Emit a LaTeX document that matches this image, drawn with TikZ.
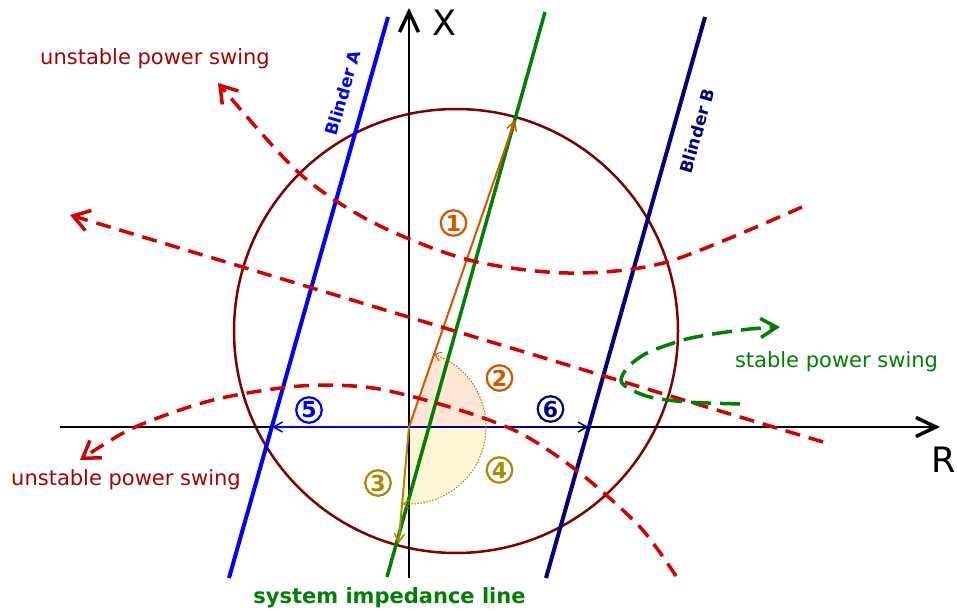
\documentclass[tikz,border=0pt]{standalone}
\usepackage{fontspec}
\setmainfont{DejaVu Sans}
\usetikzlibrary{arrows.meta,calc}
\definecolor{circ}{HTML}{800000}
\definecolor{swred}{HTML}{D40000}
\definecolor{txtred}{HTML}{AA0000}
\definecolor{orng}{HTML}{D45500}
\definecolor{dyel}{HTML}{AA8800}
\definecolor{navyb}{HTML}{000080}
\definecolor{grn}{HTML}{008000}
\definecolor{lorange}{HTML}{FFE6D5}
\definecolor{lyellow}{HTML}{FFF6D5}
\begin{document}
\begin{tikzpicture}[x=1pt,y=-1pt,
  swing/.style={draw=swred, line width=3.5pt, dash pattern=on 15pt off 9pt,
    -{Straight Barb[length=16pt,width=21pt]}},
  stableswing/.style={draw=grn, line width=3.5pt, dash pattern=on 20pt off 9pt,
    -{Straight Barb[length=16pt,width=19pt]}},
  axisline/.style={line width=2pt, -{Straight Barb[length=20pt,width=19pt,line width=3.5pt]}},
  blinder/.style={line width=4pt},
  lbl/.style={font=\fontsize{21}{25}\selectfont, inner sep=0pt},
  num/.style={circle, draw, line width=2.2pt, minimum size=25.5pt, inner sep=0pt,
    font=\fontsize{22}{22}\selectfont\bfseries},
  smallarrow/.style={line width=2pt, -{Straight Barb[length=9pt,width=10pt,line width=1.5pt]}},
  arcarrow/.style={line width=1pt, dash pattern=on 1.5pt off 1.5pt, -{Straight Barb[length=6pt,width=9pt,line width=1pt]}},
  blabel/.style={font=\fontsize{17}{20}\selectfont\bfseries, inner sep=0pt, rotate=74},
]
\useasboundingbox (0,0) rectangle (957,610);
\coordinate (O) at (409,427);
\coordinate (P1) at (515,120);
\coordinate (P3) at (398.5,544);
\coordinate (A5) at (272,427);
\coordinate (B6) at (588.5,427);
\coordinate (Xb) at (409,578);
\coordinate (Xt) at (409,8);
\coordinate (Rl) at (60,427);
\coordinate (Rr) at (940,427);
\coordinate (Arc0) at (486,427);

% sectors
\fill[lorange] (O) -- (Arc0) arc[start angle=0, end angle=-70.95, radius=77] -- cycle;
\fill[lyellow] (O) -- (Arc0) arc[start angle=0, end angle=94.8, radius=77] -- cycle;

% impedance circle
\draw[circ, line width=2.5pt] (456,331) circle[radius=222];

% axes
\draw[axisline] (Xb) -- (Xt);
\draw[axisline] (Rl) -- (Rr);
\node[anchor=base, inner sep=0pt, font=\fontsize{35}{40}\selectfont] (xl) at (444.5,36) {X};
\node[anchor=base west, inner sep=0pt, font=\fontsize{35}{40}\selectfont] (rl) at (931,472) {R};

% reach arrows
\draw[smallarrow, blue] (O) -- (A5);
\draw[smallarrow, navyb] (O) -- (B6);

% blinders
\draw[blinder, blue] (229,578) -- (388,17);
\draw[blinder, navyb] (546,578) -- (705,17);
\node[blabel, text=blue] (bla) at (343,93) {Blinder A};
\node[blabel, text=navyb] (blb) at (697,131) {Blinder B};

% system impedance line
\draw[grn, line width=3.5pt] (387,577) -- (545,12);

% angle arrows
\draw[smallarrow, orng] (O) -- (P1);
\draw[smallarrow, dyel] (O) -- (P3);
\draw[arcarrow, orng] (Arc0) arc[start angle=0, end angle=-70.95, radius=77];
\draw[arcarrow, dyel] (Arc0) arc[start angle=0, end angle=94.8, radius=77];

% power swings
\draw[swing] plot[smooth] coordinates {(802,207) (667,262) (568,273) (469,260) (374,223) (299,173) (218,83)};
\draw[swing] (823,442) -- (70,215);
\draw[swing] plot[smooth] coordinates {(676,576) (640,527) (580,473) (520,433) (453,408) (373,388) (300,386) (213,400) (133,428) (80,460)};
\draw[stableswing] plot[smooth] coordinates {(740,404) (687,402) (650,397) (628,388) (621,380) (628,367) (647,353) (683,340) (713,334) (750,329) (780,327)};

% labels
\node[lbl, text=txtred, anchor=base] (u1) at (155,64) {unstable power swing};
\node[lbl, text=txtred, anchor=base] (u2) at (126,485) {unstable power swing};
\node[lbl, text=grn, anchor=base] (st) at (836.5,367) {stable power swing};
\node[lbl, text=grn, anchor=base, font=\fontsize{21}{25}\selectfont\bfseries] (sil) at (389.5,603) {system impedance line};

% circled numbers
\node[num, orng] (n1) at (453.5,223) {1};
\node[num, orng] (n2) at (499.5,378) {2};
\node[num, dyel] (n3) at (378,483) {3};
\node[num, dyel] (n4) at (499.5,470) {4};
\node[num, blue] (n5) at (309,410) {5};
\node[num, navyb] (n6) at (550.5,409) {6};
\end{tikzpicture}
\end{document}
